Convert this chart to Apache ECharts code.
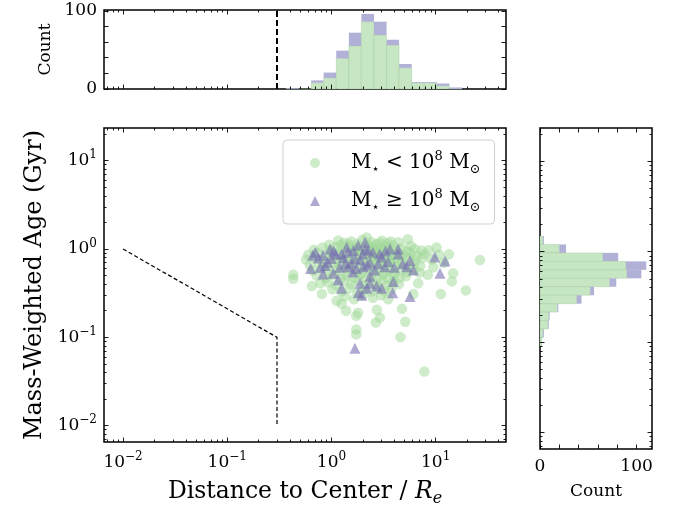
<!DOCTYPE html>
<html><head><meta charset="utf-8">
<script src="https://cdn.jsdelivr.net/npm/echarts@6/dist/echarts.min.js"></script>
<style>html,body{margin:0;padding:0;background:#fff}#c{width:673px;height:512px}</style>
</head><body><div id="c"></div>
<script>
// ---------------- DATA ----------------
// [distance to center (R_e), mass-weighted age (Gyr)]
const lowMassPoints = [
 [0.43,0.46],[0.43,0.51],[0.65,0.38],[0.78,0.41],[0.81,0.31],[1.12,0.26],[1.25,0.24],[1.38,0.20],[1.73,0.175],[1.80,0.19],
 [1.73,0.123],[1.73,0.108],[2.67,0.147],[2.92,0.167],[2.73,0.205],[4.6,0.10],[5.1,0.15],[4.75,0.21],[7.8,0.041],[5.4,1.29],
 [2.18,1.35],[1.16,1.25],[8.6,0.97],[13.4,0.87],[26.6,0.75],[14.7,0.53],[14.3,0.43],[19.5,0.34],[11.2,0.31],[8.4,0.51],
 [6.8,0.41],[6.1,0.31],[10.2,1.04],[12.0,0.70],[9.5,0.62],
 [0.95,1.12],[1.32,1.18],[1.55,1.22],[1.78,1.15],[1.98,1.27],[2.42,1.20],[2.7,1.13],[3.05,1.24],[3.45,1.16],[3.9,1.10],[4.4,1.19],[1.22,1.10],[2.25,1.10],[5.8,1.08],
 [0.68,0.98],[0.82,1.04],[0.97,0.96],[1.10,1.05],[1.28,0.99],[1.47,1.07],[1.66,0.97],[1.88,1.04],[2.08,0.95],[2.33,1.06],[2.58,0.98],[2.85,1.05],[3.15,0.96],[3.55,1.03],[4.05,0.97],[4.7,1.02],[5.3,0.95],[6.3,1.0],[7.3,0.96],
 [0.60,0.86],[0.74,0.90],[0.88,0.84],[1.02,0.92],[1.18,0.85],[1.36,0.91],[1.58,0.83],[1.80,0.93],[2.02,0.86],[2.27,0.90],[2.52,0.83],[2.78,0.92],[3.08,0.86],[3.42,0.90],[3.82,0.84],[4.3,0.91],[4.95,0.85],[5.7,0.90],[6.6,0.84],[7.8,0.88],[10.8,0.86],
 [0.57,0.76],[0.70,0.79],[0.84,0.73],[0.99,0.80],[1.14,0.74],[1.31,0.78],[1.50,0.72],[1.72,0.80],[1.95,0.75],[2.20,0.79],[2.46,0.73],[2.72,0.80],[3.0,0.75],[3.35,0.78],[3.72,0.72],[4.2,0.79],[4.8,0.74],[5.5,0.80],[6.4,0.75],[7.5,0.79],[9.2,0.76],
 [0.62,0.66],[0.76,0.70],[0.91,0.64],[1.06,0.69],[1.22,0.63],[1.40,0.70],[1.62,0.65],[1.85,0.69],[2.10,0.63],[2.38,0.70],[2.64,0.65],[2.95,0.68],[3.28,0.63],[3.65,0.70],[4.1,0.64],[4.65,0.69],[5.35,0.63],[6.2,0.68],[7.1,0.64],
 [0.66,0.57],[0.80,0.60],[0.95,0.55],[1.12,0.59],[1.30,0.54],[1.50,0.60],[1.75,0.56],[1.98,0.53],[2.25,0.59],[2.55,0.55],[2.88,0.60],[3.2,0.54],[3.6,0.58],[4.05,0.53],[4.6,0.59],[5.3,0.55],[6.1,0.58],[7.0,0.54],
 [0.72,0.50],[0.88,0.47],[1.04,0.51],[1.22,0.46],[1.42,0.50],[1.65,0.47],[1.90,0.52],[2.15,0.46],[2.45,0.50],[2.78,0.47],[3.12,0.51],[3.5,0.46],[3.95,0.50],[4.5,0.47],[5.2,0.49],
 [0.92,0.42],[1.10,0.39],[1.32,0.43],[1.55,0.40],[1.80,0.44],[2.05,0.38],[2.35,0.42],[2.68,0.40],[3.05,0.43],[3.45,0.39],[3.9,0.42],[4.45,0.40],
 [1.02,0.35],[1.25,0.33],[1.50,0.36],[1.78,0.32],[2.08,0.35],[2.42,0.33],[2.80,0.36],[3.25,0.33],[3.75,0.35],
 [1.35,0.29],[1.65,0.27],[2.0,0.30],[2.5,0.28],[3.0,0.30],[3.5,0.27],
 [1.45,1.14],[2.9,1.18],[3.7,1.22],[1.7,1.02],[2.5,1.03],[3.3,1.08],[1.9,0.88],[2.9,0.95],[1.25,0.80],[2.35,0.84],[3.6,0.79],[4.5,0.84]
];
const highMassPoints = [
 [0.66,0.85],[0.63,0.60],[0.75,0.79],[0.83,0.85],[0.97,1.0],[1.0,0.78],[0.87,0.65],[0.83,0.52],[1.04,0.53],[1.16,0.45],
 [1.25,0.36],[1.25,0.88],[1.35,0.68],[1.45,0.92],[1.62,0.96],[1.68,0.78],[1.45,0.63],[1.74,0.60],[2.02,0.63],[2.10,1.19],
 [2.10,1.0],[2.25,0.97],[2.34,0.71],[2.34,0.49],[2.34,0.41],[1.88,0.41],[1.81,0.32],[1.95,0.30],[2.18,0.36],[2.71,0.38],
 [3.03,0.36],[2.81,0.68],[3.03,0.81],[3.26,0.63],[3.64,1.0],[4.37,1.0],[4.37,0.88],[4.82,0.68],[5.27,0.63],[5.67,0.74],
 [6.11,0.58],[3.92,0.43],[3.87,0.32],[5.67,0.29],[9.8,0.81],[12.3,0.73],[11.0,0.53],[1.68,0.075],
 [0.70,0.92],[0.92,0.71],[1.1,0.88],[1.2,0.62],[1.3,0.80],[1.55,0.70],[1.6,0.55],[1.9,0.75],[2.0,0.88],[2.5,0.92],
 [2.6,0.58],[2.9,0.88],[3.3,0.95],[3.5,0.72],[2.2,0.66],[1.4,1.05],[1.8,1.1],[4.0,0.62],[0.78,0.62],[1.05,0.95]
];
// top histogram: bin edges in log10(distance / R_e), counts per bin
const distBinEdges = [-0.437,-0.316,-0.195,-0.075,0.046,0.167,0.287,0.408,0.529,0.649,0.770,0.891,1.011,1.132,1.253];
const distCountLow  = [0,0,8,14,39,55,86,69,56,27,8,8,4,0];
const distCountHigh = [1,0,3,7,10,17,10,17,7,5,1,1,3,2];
// right histogram: bin edges in log10(age / Gyr), counts per bin
const ageBinEdges = [0.174,0.080,-0.013,-0.107,-0.201,-0.295,-0.388,-0.482,-0.576,-0.669,-0.763,-0.857,-0.950,-1.044];
const ageCountLow  = [3,20,65,89,90,72,52,38,18,9,8,3,2];
const ageCountHigh = [1,7,16,21,15,7,4,5,1,1,1,1,0];
// dashed boundary in main panel and distance cut
const boundaryLine = [[0.01,1.0],[0.3,0.1],[0.3,0.01]];
const distanceCut = 0.3;
// ticks
const logMajorExponents = [-2,-1,0,1];
const logMinorMultipliers = [2,3,4,5,6,7,8,9];
const countTicks = [0,20,40,60,80,100];
const countTickLabels = [0,100];
const legendLabels = ['M<10^8','M>=10^8'];

// ---------------- STYLE / LAYOUT ----------------
const FONT = "'DejaVu Serif', 'DejaVu Sans', serif";
const GREEN_PT = 'rgba(161,217,155,0.66)';
const PURPLE_PT = 'rgba(117,107,177,0.72)';
const GREEN_H = '#c7e6c3';
const PURPLE_H = '#b1b0d6';
const X_RANGE = [-2.183, 1.675];
const Y_RANGE = [-2.185, 1.370];
const TOP_COUNT_MAX = 101;
const RIGHT_COUNT_MAX = 116;
const MAJ = 4.5, MIN = 2.5;

const lg = v => Math.log10(v);
function minorTicks(r){
  const out=[];
  for(let e=-4;e<=3;e++) for(const k of logMinorMultipliers){const v=e+Math.log10(k); if(v>r[0]&&v<r[1]) out.push(v);}
  return out;
}
const majorsIn = r => logMajorExponents.filter(v=>v>=r[0]&&v<=r[1]);
const supFmt = v => { const e=Math.round(v); return '{b|10}{s|'+(e<0?'\u2212'+(-e):e)+'}'; };
const tickRich = {
  b:{fontFamily:FONT,fontSize:17,color:'#000',lineHeight:23,verticalAlign:'middle'},
  s:{fontFamily:FONT,fontSize:12,color:'#000',verticalAlign:'top'}
};
function ax(gridIndex, position, range, ticks, len, extra){
  return Object.assign({
    type:'value', gridIndex, position, min:range[0], max:range[1], silent:true, z:10,
    axisLine:{show:false, onZero:false}, splitLine:{show:false},
    axisTick:{show:true, inside:true, length:len, customValues:ticks, lineStyle:{color:'#000',width:0.9}},
    axisLabel:{show:false}
  }, extra||{});
}
const xMaj = majorsIn(X_RANGE), xMin = minorTicks(X_RANGE);
const yMaj = majorsIn(Y_RANGE), yMin = minorTicks(Y_RANGE);
const countLabelStyle = {show:true, customValues:countTickLabels, fontFamily:FONT, fontSize:17, color:'#000'};

const xAxes = [
  ax(0,'bottom',X_RANGE,xMaj,MAJ,{axisLabel:{show:true,customValues:xMaj,formatter:supFmt,rich:tickRich,margin:9},
     name:'{n|Distance to Center / }{i|R}{e|e}', nameLocation:'middle', nameGap:35,
     nameTextStyle:{rich:{n:{fontFamily:FONT,fontSize:23.5,color:'#000',lineHeight:30},i:{fontFamily:FONT,fontSize:23.5,fontStyle:'italic',color:'#000',lineHeight:30},e:{fontFamily:FONT,fontSize:16,fontStyle:'italic',color:'#000',verticalAlign:'bottom'}}}}),
  ax(0,'bottom',X_RANGE,xMin,MIN),
  ax(0,'top',X_RANGE,xMaj,MAJ),
  ax(0,'top',X_RANGE,xMin,MIN),
  ax(1,'bottom',X_RANGE,xMaj,MAJ),
  ax(1,'bottom',X_RANGE,xMin,MIN),
  ax(1,'top',X_RANGE,xMaj,MAJ),
  ax(1,'top',X_RANGE,xMin,MIN),
  ax(2,'bottom',[0,RIGHT_COUNT_MAX],countTicks,MAJ,{axisLabel:Object.assign({margin:9},countLabelStyle),
     name:'Count', nameLocation:'middle', nameGap:34, nameTextStyle:{fontFamily:FONT,fontSize:17,color:'#000'}}),
  ax(2,'top',[0,RIGHT_COUNT_MAX],countTicks,MAJ)
];
const yAxes = [
  ax(0,'left',Y_RANGE,yMaj,MAJ,{axisLabel:{show:true,customValues:yMaj,formatter:supFmt,rich:tickRich,margin:7},
     name:'Mass-Weighted Age (Gyr)', nameLocation:'middle', nameGap:56,
     nameTextStyle:{fontFamily:FONT,fontSize:24,color:'#000'}}),
  ax(0,'left',Y_RANGE,yMin,MIN),
  ax(0,'right',Y_RANGE,yMaj,MAJ),
  ax(0,'right',Y_RANGE,yMin,MIN),
  ax(1,'left',[0,TOP_COUNT_MAX],countTicks,MAJ,{axisLabel:Object.assign({margin:7},countLabelStyle),
     name:'Count', nameLocation:'middle', nameGap:49, nameTextStyle:{fontFamily:FONT,fontSize:17,color:'#000'}}),
  ax(1,'right',[0,TOP_COUNT_MAX],countTicks,MAJ),
  ax(2,'left',Y_RANGE,yMaj,MAJ),
  ax(2,'left',Y_RANGE,yMin,MIN),
  ax(2,'right',Y_RANGE,yMaj,MAJ),
  ax(2,'right',Y_RANGE,yMin,MIN)
];

function histTop(params, api){
  const x0=api.value(0), x1=api.value(1), g=api.value(2), p=api.value(3);
  const a=api.coord([x0,0]), b=api.coord([x1,g]), c=api.coord([x1,g+p]);
  const w=b[0]-a[0];
  return {type:'group', children:[
    {type:'rect', shape:{x:a[0],y:b[1],width:w,height:a[1]-b[1]}, style:{fill:GREEN_H, stroke:'rgba(140,190,135,0.5)', lineWidth:0.6}},
    {type:'rect', shape:{x:a[0],y:c[1],width:w,height:b[1]-c[1]}, style:{fill:PURPLE_H}}
  ]};
}
function histRight(params, api){
  const y0=api.value(0), y1=api.value(1), g=api.value(2), p=api.value(3);
  const a=api.coord([0,y0]), b=api.coord([g,y1]), c=api.coord([g+p,y1]);
  const h=b[1]-a[1];
  return {type:'group', children:[
    {type:'rect', shape:{x:a[0],y:a[1],width:b[0]-a[0],height:h}, style:{fill:GREEN_H, stroke:'rgba(140,190,135,0.5)', lineWidth:0.6}},
    {type:'rect', shape:{x:b[0],y:a[1],width:c[0]-b[0],height:h}, style:{fill:PURPLE_H}}
  ]};
}

const legendRich = {
  g:{width:26},
  m:{fontFamily:FONT,fontSize:20,color:'#000',lineHeight:26,verticalAlign:'middle'},
  t:{fontFamily:FONT,fontSize:20,color:'#000',lineHeight:26,verticalAlign:'middle'},
  sb:{fontFamily:FONT,fontSize:13,color:'#000',verticalAlign:'bottom'},
  sp:{fontFamily:FONT,fontSize:13,color:'#000',verticalAlign:'top'}
};
const legendText = {};
legendText[legendLabels[0]] = '{g|}{m|M}{sb|\u22c6}{t| < 10}{sp|8}{m| M}{sb|\u2299}';
legendText[legendLabels[1]] = '{g|}{m|M}{sb|\u22c6}{t| \u2265 10}{sp|8}{m| M}{sb|\u2299}';

const option = {
  animation:false,
  backgroundColor:'#fff',
  textStyle:{fontFamily:FONT},
  grid:[
    {left:104, top:128, width:402, height:321, show:true, borderColor:'#000', borderWidth:1.5, backgroundColor:'transparent'},
    {left:104, top:10, width:402, height:79, show:true, borderColor:'#000', borderWidth:1.5, backgroundColor:'transparent'},
    {left:540, top:128, width:112, height:321, show:true, borderColor:'#000', borderWidth:1.5, backgroundColor:'transparent'}
  ],
  xAxis:xAxes, yAxis:yAxes,
  legend:{
    data:legendLabels, orient:'vertical', left:283, top:140, itemWidth:10, itemHeight:10, itemGap:12,
    padding:[10,14,10,27], borderColor:'#d0d0d0', borderWidth:1, borderRadius:4, backgroundColor:'rgba(255,255,255,0.8)',
    formatter:n=>legendText[n], textStyle:{rich:legendRich}, selectedMode:false
  },
  series:[
    {type:'scatter', name:legendLabels[0], xAxisIndex:0, yAxisIndex:0, symbol:'circle', symbolSize:10.5,
     itemStyle:{color:GREEN_PT}, data:lowMassPoints.map(p=>[lg(p[0]),lg(p[1])]), z:2, silent:true},
    {type:'scatter', name:legendLabels[1], xAxisIndex:0, yAxisIndex:0, symbol:'triangle', symbolSize:11,
     itemStyle:{color:PURPLE_PT}, data:highMassPoints.map(p=>[lg(p[0]),lg(p[1])]), z:3, silent:true},
    {type:'line', xAxisIndex:0, yAxisIndex:0, data:boundaryLine.map(p=>[lg(p[0]),lg(p[1])]), symbol:'none',
     lineStyle:{color:'#000', width:1.2, type:[4,2.5]}, z:4, silent:true},
    {type:'custom', xAxisIndex:4, yAxisIndex:4, renderItem:histTop, silent:true,
     data:distCountLow.map((g,i)=>[distBinEdges[i],distBinEdges[i+1],g,distCountHigh[i]])},
    {type:'line', xAxisIndex:4, yAxisIndex:4, data:[[lg(distanceCut),0],[lg(distanceCut),TOP_COUNT_MAX]], symbol:'none',
     lineStyle:{color:'#000', width:2, type:[6,3]}, z:4, silent:true},
    {type:'custom', xAxisIndex:8, yAxisIndex:6, renderItem:histRight, silent:true,
     data:ageCountLow.map((g,i)=>[ageBinEdges[i],ageBinEdges[i+1],g,ageCountHigh[i]])}
  ]
};
const chart = echarts.init(document.getElementById('c'));
chart.setOption(option);
</script>
</body></html>
